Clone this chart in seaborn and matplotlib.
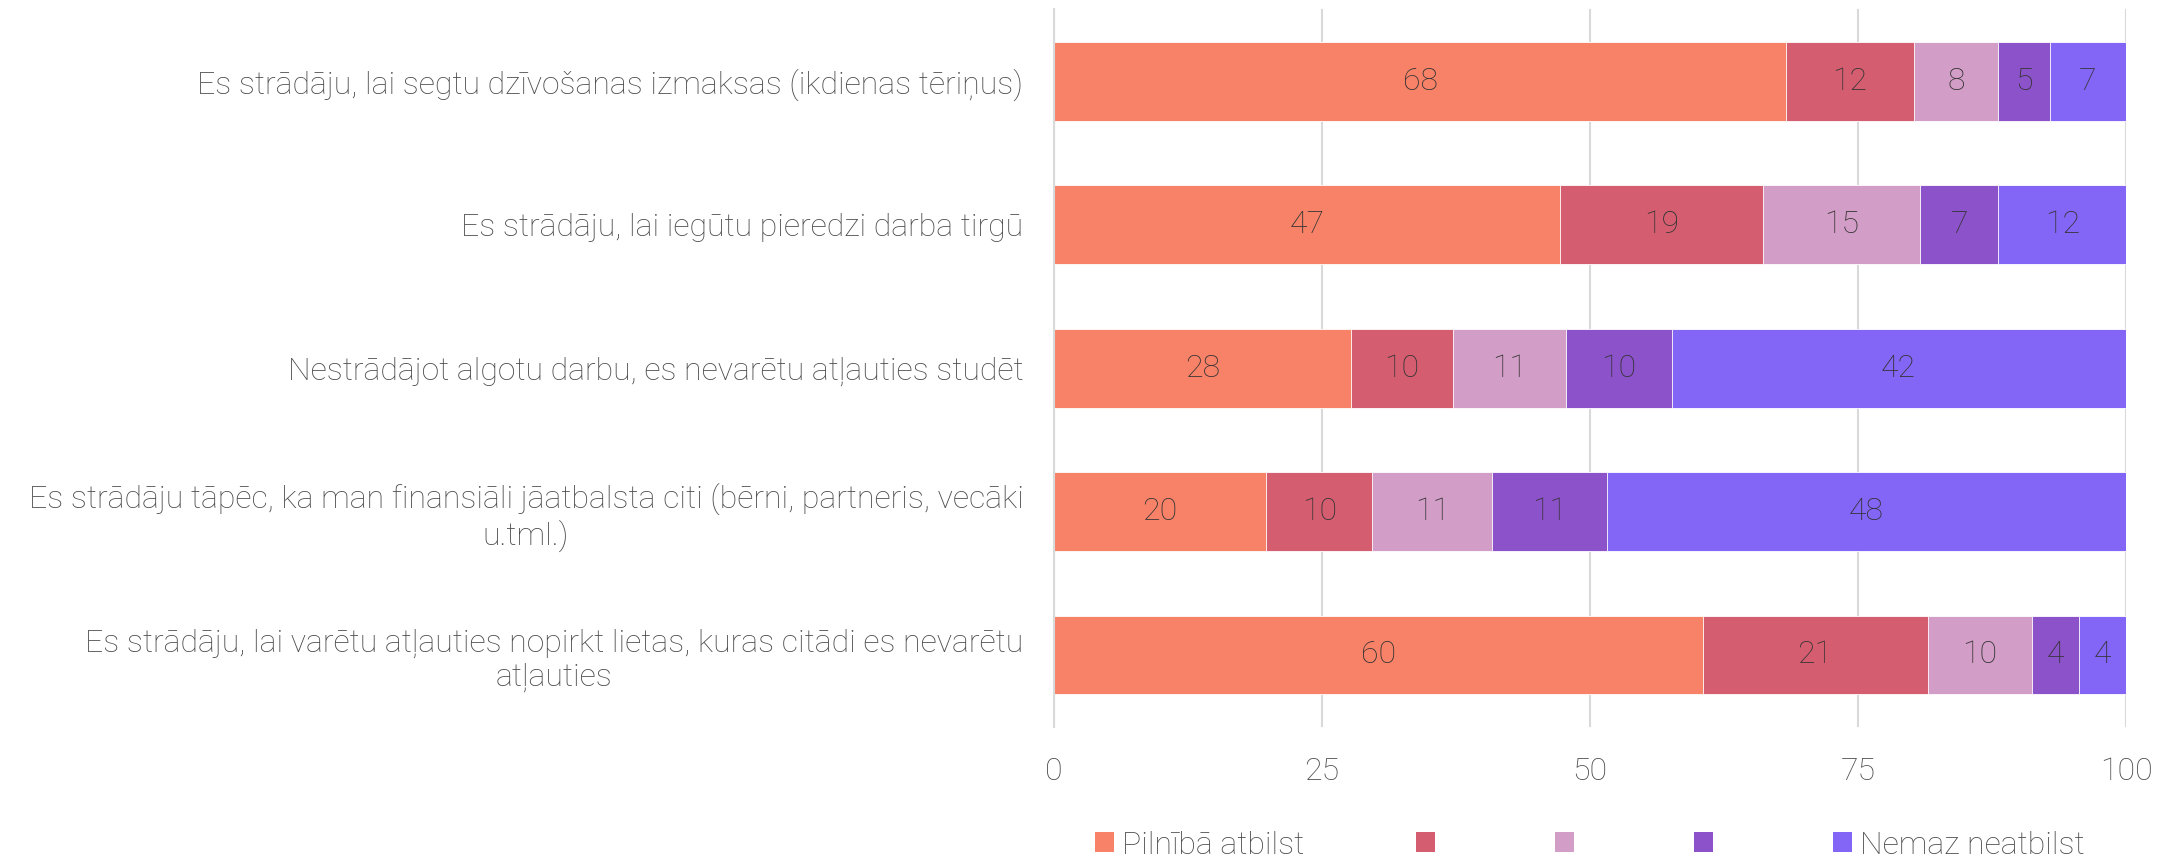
import numpy as np
import pandas as pd
import matplotlib
matplotlib.use("Agg")
import matplotlib.pyplot as plt
from matplotlib.patches import Patch
import seaborn as sns

# Survey statements (top to bottom)
statements = [
    "Es strādāju, lai segtu dzīvošanas izmaksas (ikdienas tēriņus)",
    "Es strādāju, lai iegūtu pieredzi darba tirgū",
    "Nestrādājot algotu darbu, es nevarētu atļauties studēt",
    "Es strādāju tāpēc, ka man finansiāli jāatbalsta citi (bērni, partneris, vecāki\nu.tml.)",
    "Es strādāju, lai varētu atļauties nopirkt lietas, kuras citādi es nevarētu\natļauties",
]

# Shares (%) per answer level
level_1 = [68.3, 47.2, 27.7, 19.8, 60.5]   # Pilnībā atbilst
level_2 = [11.9, 18.9, 9.5, 9.9, 21.0]
level_3 = [7.9, 14.7, 10.6, 11.2, 9.7]
level_4 = [4.8, 7.3, 9.8, 10.7, 4.4]
level_5 = [7.1, 11.9, 42.4, 48.4, 4.4]     # Nemaz neatbilst

level_names = ["Pilnībā atbilst", "", "", "", "Nemaz neatbilst"]
level_colors = ["#F88268", "#D45E70", "#D29DC6", "#8C52C9", "#8366F5"]

x_ticks = [0, 25, 50, 75, 100]

TEXT = "#4A4A4A"
VALUE = "#333333"
GRID = "#D9D9D9"
FS = 23

sns.set_theme(style="white")
plt.rcParams["font.family"] = ["Roboto", "DejaVu Sans"]
plt.rcParams["font.weight"] = "light"

levels = np.array([level_1, level_2, level_3, level_4, level_5])
cum = levels.cumsum(axis=0)

fig = plt.figure(figsize=(21.75, 8.61), dpi=100)
ax = fig.add_axes([0.4846, 0.156, 0.4929, 0.833])

# stacked bars: draw cumulative totals from the last level back to the first
for i in range(len(levels) - 1, -1, -1):
    df = pd.DataFrame({"statement": statements, "cum": cum[i]})
    sns.barplot(data=df, x="cum", y="statement", orient="h", color=level_colors[i],
                width=0.55, saturation=1, edgecolor="white", linewidth=0.6, ax=ax)

# value labels in the middle of each segment
for i in range(len(levels)):
    for j in range(len(statements)):
        center = cum[i][j] - levels[i][j] / 2
        ax.text(center, j, f"{levels[i][j]:.0f}", ha="center", va="center",
                fontsize=FS, color=VALUE)

ax.set_xlim(0, 100)
ax.set_ylim(len(statements) - 0.5, -0.5)
ax.set_xticks(x_ticks)
ax.set_xticklabels([str(t) for t in x_ticks])
ax.set_xlabel("")
ax.set_ylabel("")

ax.xaxis.grid(True, color=GRID, linewidth=1.5)
ax.yaxis.grid(False)
ax.set_axisbelow(True)

for side in ["top", "right", "bottom"]:
    ax.spines[side].set_visible(False)
ax.spines["left"].set_color(GRID)
ax.spines["left"].set_linewidth(1.5)

ax.tick_params(axis="x", length=0, pad=22, labelsize=FS, labelcolor=TEXT)
ax.tick_params(axis="y", which="major", length=0, pad=22, labelsize=FS, labelcolor=TEXT)
ax.set_yticks(np.arange(-0.5, len(statements), 1), minor=True)
ax.tick_params(axis="y", which="minor", length=13, direction="inout",
               color=GRID, width=1.5)
for lbl in ax.get_yticklabels():
    lbl.set_multialignment("center")

handles = [Patch(facecolor=c, edgecolor="none") for c in level_colors]
ax.legend(handles, level_names, loc="center", bbox_to_anchor=(0.5, -0.165),
          ncol=5, frameon=False, fontsize=FS, labelcolor=TEXT,
          handlelength=0.6, handleheight=0.6, handletextpad=0.25,
          columnspacing=3.5)

fig.savefig("out.png", dpi=100)
